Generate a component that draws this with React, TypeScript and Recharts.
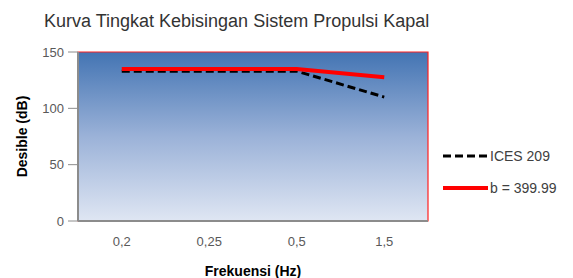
import { LineChart, Line, XAxis, YAxis, ReferenceArea } from 'recharts'

const categories = ['0,2', '0,25', '0,5', '1,5']
const icesValues = [133, 133, 133, 110]
const bValues = [135, 135, 135, 127.5]
const yTicks = [0, 50, 100, 150]

const FONT = 'Liberation Sans, Arial, sans-serif'
const TICK = { fill: '#595959', fontSize: 13, fontFamily: FONT }

const data = categories.map((c, i) => ({ freq: c, ices: icesValues[i], b: bValues[i] }))

function LegendBox() {
  return (
    <div style={{ position: 'absolute', left: 441, top: 146, fontFamily: FONT, fontSize: 14, color: '#404040' }}>
      <div style={{ display: 'flex', alignItems: 'center', height: 20, marginBottom: 12 }}>
        <svg width={47} height={6}>
          <line x1={2} y1={3} x2={47} y2={3} stroke="#000" strokeWidth={3} strokeDasharray="8 4" />
        </svg>
        <span style={{ marginLeft: 2 }}>ICES 209</span>
      </div>
      <div style={{ display: 'flex', alignItems: 'center', height: 20 }}>
        <svg width={47} height={6}>
          <line x1={2} y1={3} x2={47} y2={3} stroke="#ff0000" strokeWidth={4} />
        </svg>
        <span style={{ marginLeft: 2 }}>b = 399.99</span>
      </div>
    </div>
  )
}

export default function App() {
  return (
    <div style={{ position: 'absolute', left: 0, top: 0, width: 573, height: 278, background: '#fff' }}>
      <div style={{ position: 'absolute', left: 44, top: 11, fontFamily: FONT, fontSize: 18, color: '#333' }}>
        Kurva Tingkat Kebisingan Sistem Propulsi Kapal
      </div>
      <LineChart width={573} height={278} data={data} margin={{ top: 52, right: 145, bottom: 0, left: 0 }}>
        <defs>
          <linearGradient id="plotBg" x1="0" y1="0" x2="0" y2="1">
            <stop offset="0%" stopColor="#4374b3" />
            <stop offset="50%" stopColor="#9bb2d8" />
            <stop offset="100%" stopColor="#dfe6f3" />
          </linearGradient>
        </defs>
        <ReferenceArea y1={0} y2={150} fill="url(#plotBg)" fillOpacity={1} stroke="#ff2020" strokeWidth={1.2} ifOverflow="visible" />
        <XAxis
          dataKey="freq"
          scale="band"
          tick={TICK}
          tickLine={false}
          tickSize={0}
          tickMargin={16}
          height={57}
          axisLine={{ stroke: '#8c8c8c', strokeWidth: 2 }}
          label={{ value: 'Frekuensi (Hz)', position: 'insideBottom', offset: 2, fill: '#000', fontSize: 14, fontWeight: 'bold', fontFamily: FONT }}
        />
        <YAxis
          domain={[0, 150]}
          ticks={yTicks}
          tick={TICK}
          tickSize={10}
          tickMargin={4}
          width={78}
          tickLine={{ stroke: '#8c8c8c' }}
          axisLine={{ stroke: '#8c8c8c', strokeWidth: 2 }}
          label={{ value: 'Desible (dB)', angle: -90, position: 'insideLeft', offset: 22, style: { textAnchor: 'middle' }, fill: '#000', fontSize: 14, fontWeight: 'bold', fontFamily: FONT }}
        />
        <Line dataKey="ices" stroke="#000" strokeWidth={3} strokeDasharray="8 4" dot={false} isAnimationActive={false} />
        <Line dataKey="b" stroke="#ff0000" strokeWidth={4} dot={false} isAnimationActive={false} />
      </LineChart>
      <LegendBox />
    </div>
  )
}
